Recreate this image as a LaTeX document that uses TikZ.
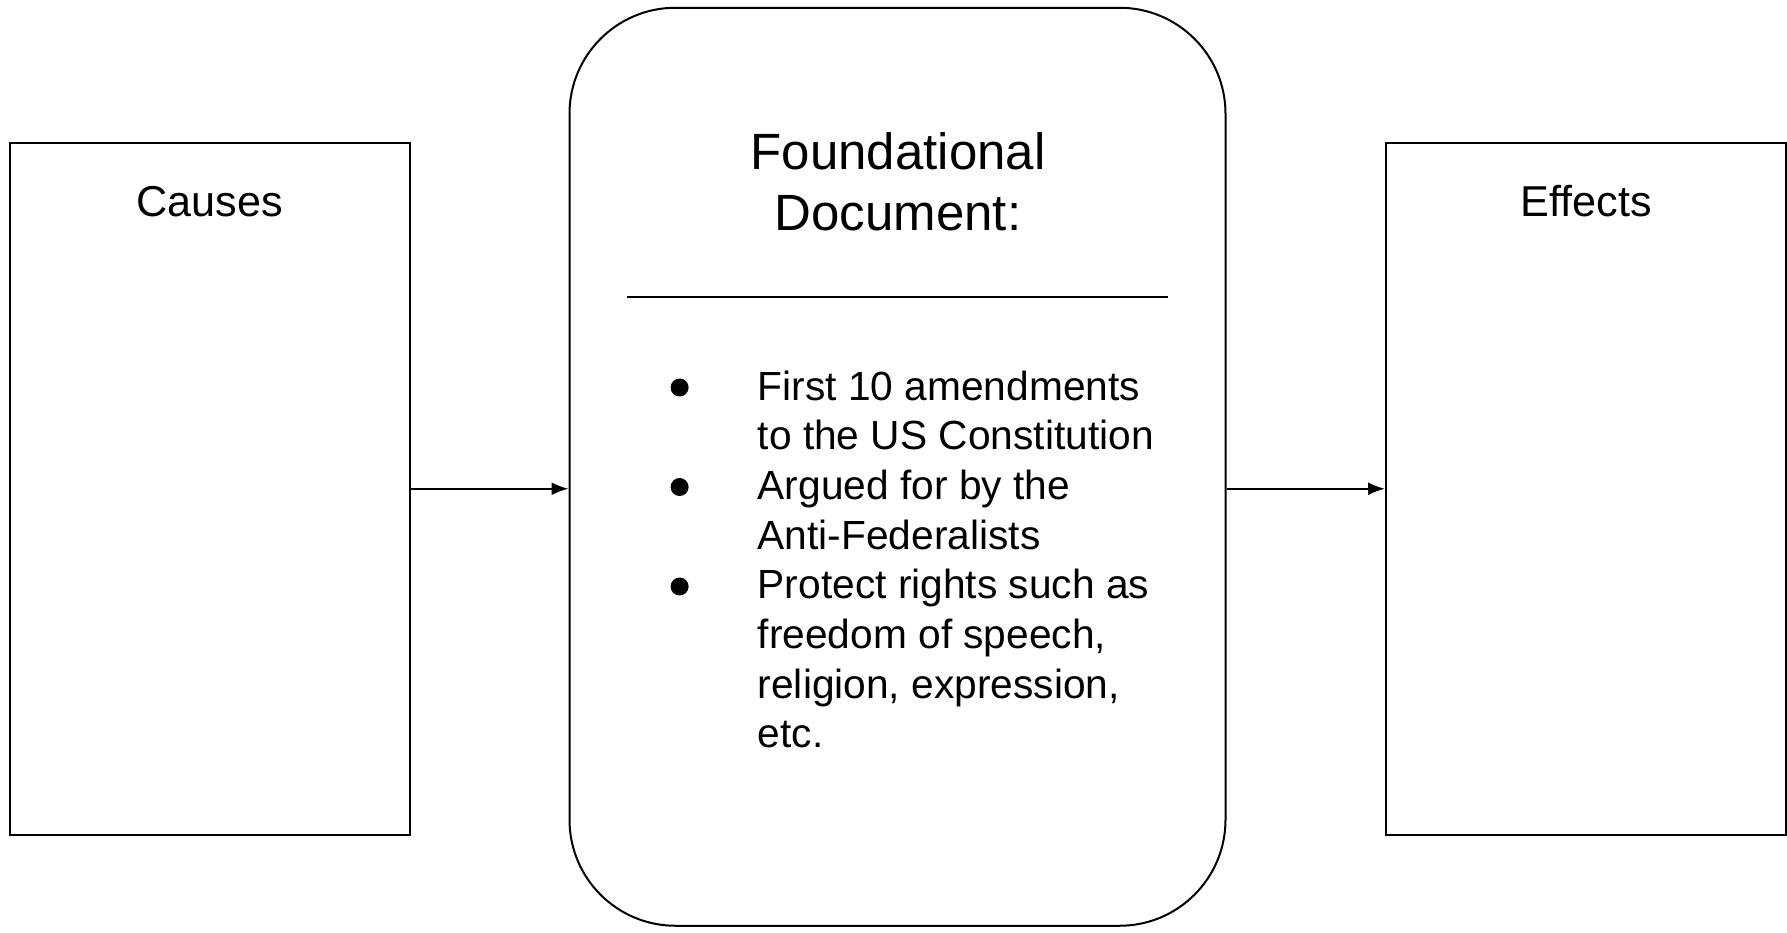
\documentclass[tikz,border=0pt]{standalone}
\usepackage{fontspec}
\setmainfont{Liberation Sans}
\usetikzlibrary{arrows.meta}
\begin{document}
\begin{tikzpicture}[x=1pt,y=-1pt,
  boxline/.style={draw=black,line width=2pt},
  sidebox/.style={boxline,rectangle,minimum width=400pt,minimum height=691.5pt,inner sep=0pt},
  mainbox/.style={boxline,rectangle,rounded corners=106pt,minimum width=656pt,minimum height=918pt,inner sep=0pt},
  sidelabel/.style={anchor=base,inner sep=0pt,font=\fontsize{43.2}{52}\selectfont},
  titlelabel/.style={anchor=base,inner sep=0pt,font=\fontsize{51}{61}\selectfont},
  itemtext/.style={anchor=base west,inner sep=0pt,font=\fontsize{40.7}{49.7}\selectfont},
  bulletmark/.style={circle,fill=black,inner sep=0pt,minimum size=18pt},
  flow/.style={line width=2pt,-{Latex[length=17pt,width=13pt]}}]
\useasboundingbox (0,0) rectangle (1787,932);
\node[sidebox] (causes) at (209.5,488.75) {};
\node[sidebox] (effects) at (1586,488.75) {};
\node[mainbox] (doc) at (897.5,466.75) {};
\node[sidelabel] (causeslbl) at (210,216.5) {Causes};
\node[sidelabel] (effectslbl) at (1586,216.5) {Effects};
\node[titlelabel] (t1) at (898,169) {Foundational};
\node[titlelabel] (t2) at (898,230) {Document:};
\coordinate (sepL) at (627,297);
\coordinate (sepR) at (1168,297);
\draw[line width=2pt] (sepL) -- (sepR);
\node[bulletmark] (b1) at (679.6,387.5) {};
\node[bulletmark] (b2) at (679.6,487) {};
\node[bulletmark] (b3) at (679.6,586.5) {};
\node[itemtext] (l1) at (757.6,400) {First 10 amendments};
\node[itemtext] (l2) at (757.6,449.7) {to the US Constitution};
\node[itemtext] (l3) at (757.6,499.4) {Argued for by the};
\node[itemtext] (l4) at (757.6,549.1) {Anti-Federalists};
\node[itemtext] (l5) at (757.6,598.8) {Protect rights such as};
\node[itemtext] (l6) at (757.6,648.5) {freedom of speech,};
\node[itemtext] (l7) at (757.6,698.2) {religion, expression,};
\node[itemtext] (l8) at (757.6,747.9) {etc.};
\draw[flow] (causes.east) -- (causes.east -| doc.west);
\draw[flow] (doc.east |- effects.west) -- (effects.west);
\end{tikzpicture}
\end{document}
